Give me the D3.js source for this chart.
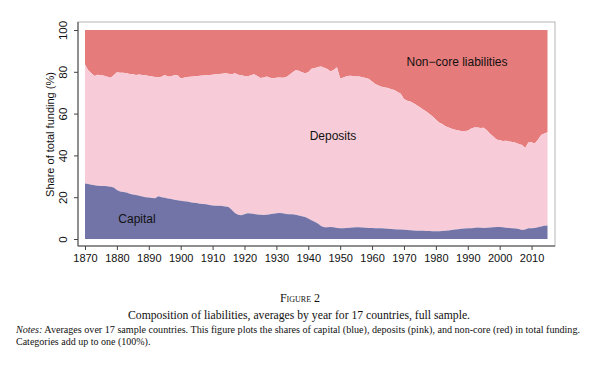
<!DOCTYPE html>
<html>
<head>
<meta charset="utf-8">
<script src="https://cdn.jsdelivr.net/npm/d3@7"></script>
<style>
  body { margin: 0; background: #fff; }
  .axisText { font-family: "Liberation Sans", Arial, sans-serif; font-size: 11px; fill: #111; }
  .caption { font-family: "Liberation Serif", "Times New Roman", serif; fill: #111; }
</style>
</head>
<body>
<div id="chart"></div>
<script>
// Data: share of total funding (%), 17-country averages, 1870-2015
var firstYear = 1870;
var lastYear = 2015;

// capital share
var capital = [
  26.5, 26.3, 26.0, 25.7, 25.5, 25.4, 25.3, 25.2, 25.0, 24.6,
  23.5, 22.7, 22.5, 22.2, 21.6, 21.3, 21.0, 20.7, 20.3, 20.0,
  19.8, 19.6, 19.5, 20.4, 20.0, 19.7, 19.4, 19.1, 18.8, 18.6,
  18.3, 18.1, 17.9, 17.6, 17.4, 17.2, 16.9, 16.7, 16.6, 16.3,
  16.0, 15.9, 15.9, 15.8, 15.6, 15.3, 14.0, 12.5, 11.6, 11.4,
  11.8, 12.3, 12.2, 12.0, 11.7, 11.6, 11.5, 11.6, 11.8, 12.1,
  12.3, 12.4, 12.3, 12.0, 11.9, 11.8, 11.6, 11.3, 10.9, 10.5,
  9.8, 9.0, 8.3, 7.4, 6.2, 5.6, 5.6, 5.7, 5.6, 5.3,
  5.2, 5.2, 5.3, 5.4, 5.5, 5.6, 5.6, 5.5, 5.4, 5.3,
  5.3, 5.2, 5.2, 5.1, 5.0, 4.9, 4.8, 4.7, 4.6, 4.5,
  4.4, 4.3, 4.2, 4.1, 4.0, 3.9, 3.9, 3.8, 3.8, 3.7,
  3.7, 3.7, 3.8, 3.9, 4.1, 4.3, 4.5, 4.7, 4.9, 5.0,
  5.1, 5.2, 5.3, 5.5, 5.4, 5.3, 5.4, 5.5, 5.6, 5.8,
  5.8, 5.6, 5.4, 5.3, 5.2, 5.0, 4.8, 4.3, 4.6, 5.1,
  5.2, 5.3, 5.6, 6.0, 6.3, 6.5
];

// capital + deposits (core funding); non-core is the rest up to 100
var coreFunding = [
  83.5, 80.8, 79.3, 78.0, 78.6, 78.4, 78.1, 77.6, 77.2, 78.4,
  79.8, 79.6, 79.5, 79.3, 79.0, 78.8, 78.5, 78.7, 78.5, 78.3,
  78.0, 77.7, 77.5, 77.4, 77.6, 78.5, 77.8, 77.7, 78.5, 78.4,
  76.9, 77.2, 77.5, 77.6, 77.7, 77.9, 78.1, 78.2, 78.3, 78.5,
  78.6, 78.8, 79.0, 79.1, 79.3, 79.1, 78.8, 79.3, 78.6, 78.4,
  78.0, 77.7, 78.3, 78.8, 78.0, 77.0, 77.3, 77.7, 77.2, 76.9,
  77.2, 77.3, 77.2, 77.4, 78.5, 79.7, 80.8, 80.5, 79.8, 79.3,
  79.8, 81.5, 81.7, 82.3, 82.5, 81.9, 81.3, 80.1, 81.0, 82.2,
  76.8, 77.3, 77.9, 78.1, 78.0, 77.8, 77.7, 77.4, 77.0, 76.6,
  75.3, 74.2, 73.5, 72.9, 72.5, 72.2, 71.6, 71.3, 70.3, 69.5,
  67.0, 66.2, 65.8, 65.0, 64.0, 63.0, 62.0, 61.0, 59.8, 58.6,
  57.2, 55.8, 55.0, 54.0, 53.3, 52.8, 52.3, 51.9, 51.7, 51.7,
  51.8, 52.8, 53.3, 53.3, 53.1, 53.2, 52.0, 50.3, 49.0, 47.6,
  47.3, 46.9, 47.0, 46.7, 46.4, 46.0, 45.5, 45.0, 43.5, 46.2,
  46.3, 45.7, 47.5, 49.8, 50.5, 51.1
];

var xTicks = [1870, 1880, 1890, 1900, 1910, 1920, 1930, 1940, 1950, 1960, 1970, 1980, 1990, 2000, 2010];
var yTicks = [0, 20, 40, 60, 80, 100];

var svgWidth = 604;
var svgHeight = 373;

var svg = d3.select("#chart")
  .append("svg")
  .attr("width", svgWidth)
  .attr("height", svgHeight);

svg.append("rect")
  .attr("width", svgWidth)
  .attr("height", svgHeight)
  .attr("fill", "#fff");

// plot region frame
var frame = { left: 78, top: 22, right: 555, bottom: 246 };

svg.append("rect")
  .attr("x", frame.left)
  .attr("y", frame.top)
  .attr("width", frame.right - frame.left)
  .attr("height", frame.bottom - frame.top)
  .attr("fill", "#fff")
  .attr("stroke", "#b5b5b5")
  .attr("stroke-width", 1);

var xScale = d3.scaleLinear()
  .domain([firstYear, lastYear])
  .range([85, 547.5]);

var yScale = d3.scaleLinear()
  .domain([0, 100])
  .range([239, 30]);

var data = capital.map(function(c, i) {
  return { year: firstYear + i, capital: c, core: coreFunding[i] };
});

var areaNoncore = d3.area()
  .x(d => xScale(d.year))
  .y0(d => yScale(d.core))
  .y1(() => yScale(100));

var areaDeposits = d3.area()
  .x(d => xScale(d.year))
  .y0(d => yScale(d.capital))
  .y1(d => yScale(d.core));

var areaCapital = d3.area()
  .x(d => xScale(d.year))
  .y0(() => yScale(0))
  .y1(d => yScale(d.capital));

svg.append("path").datum(data).attr("d", areaNoncore).attr("fill", "#e67b7b");
svg.append("path").datum(data).attr("d", areaDeposits).attr("fill", "#f7ccd8");
svg.append("path").datum(data).attr("d", areaCapital).attr("fill", "#7274a8");

// axes
var bottomAxis = d3.axisBottom(xScale)
  .tickValues(xTicks)
  .tickFormat(d3.format("d"))
  .tickSize(4)
  .tickPadding(4);

var leftAxis = d3.axisLeft(yScale)
  .tickValues(yTicks)
  .tickSize(4)
  .tickPadding(0);

var xAxis = svg.append("g")
  .attr("transform", `translate(0, ${frame.bottom})`)
  .call(bottomAxis);

xAxis.select(".domain").attr("d", `M${frame.left},0H${frame.right}`);

var yAxis = svg.append("g")
  .attr("transform", `translate(${frame.left}, 0)`)
  .call(leftAxis);

yAxis.select(".domain").attr("d", `M0,${frame.top}V${frame.bottom}`);

[xAxis, yAxis].forEach(function(g) {
  g.selectAll(".domain").attr("stroke", "#444");
  g.selectAll(".tick line").attr("stroke", "#444");
  g.selectAll("text")
    .attr("class", "axisText")
    .attr("font-family", null)
    .attr("font-size", null);
});

// rotated y tick labels
yAxis.selectAll(".tick text")
  .attr("x", null)
  .attr("dy", null)
  .attr("transform", "translate(-11, 0) rotate(-90)")
  .style("font-size", "11.5px")
  .style("text-anchor", "middle");

// axis title
svg.append("text")
  .attr("class", "axisText")
  .attr("transform", `translate(54, ${yScale(50)}) rotate(-90)`)
  .style("text-anchor", "middle")
  .text("Share of total funding (%)");

// area labels
svg.append("text")
  .attr("class", "axisText")
  .attr("x", 137)
  .attr("y", 223)
  .style("font-size", "12px")
  .style("text-anchor", "middle")
  .text("Capital");

svg.append("text")
  .attr("class", "axisText")
  .attr("x", 333)
  .attr("y", 140)
  .style("font-size", "12px")
  .style("text-anchor", "middle")
  .text("Deposits");

svg.append("text")
  .attr("class", "axisText")
  .attr("x", 457)
  .attr("y", 66)
  .style("font-size", "12px")
  .style("text-anchor", "middle")
  .text("Non\u2212core liabilities");

// caption
svg.append("text")
  .attr("class", "caption")
  .attr("x", 300)
  .attr("y", 302)
  .style("font-size", "12px")
  .style("font-variant", "small-caps")
  .style("text-anchor", "middle")
  .text("Figure 2");

svg.append("text")
  .attr("class", "caption")
  .attr("x", 299)
  .attr("y", 319)
  .attr("textLength", 342)
  .attr("lengthAdjust", "spacingAndGlyphs")
  .style("font-size", "11.5px")
  .style("text-anchor", "middle")
  .text("Composition of liabilities, averages by year for 17 countries, full sample.");

var notes = svg.append("text")
  .attr("class", "caption")
  .attr("x", 16)
  .attr("y", 333)
  .attr("textLength", 564)
  .attr("lengthAdjust", "spacingAndGlyphs")
  .style("font-size", "10px");

notes.append("tspan")
  .style("font-style", "italic")
  .text("Notes:");

notes.append("tspan")
  .text(" Averages over 17 sample countries. This figure plots the shares of capital (blue), deposits (pink), and non-core (red) in total funding.");

svg.append("text")
  .attr("class", "caption")
  .attr("x", 16)
  .attr("y", 345)
  .style("font-size", "10px")
  .text("Categories add up to one (100%).");
</script>
</body>
</html>
